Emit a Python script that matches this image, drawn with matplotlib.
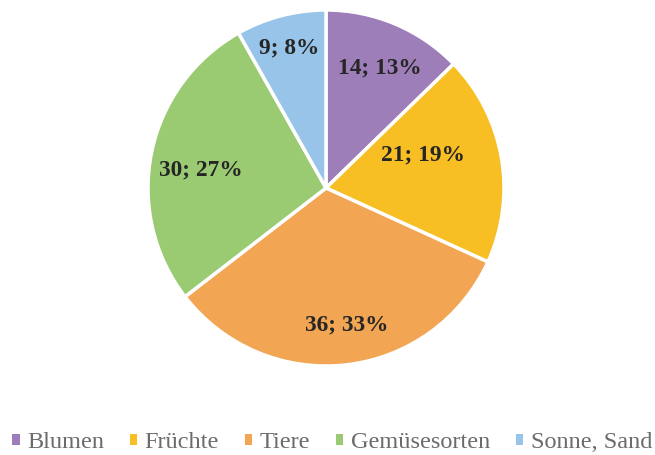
import matplotlib
matplotlib.use("Agg")
import matplotlib.pyplot as plt
from matplotlib.patches import Patch

categories = ["Blumen", "Früchte", "Tiere", "Gemüsesorten", "Sonne, Sand"]
values = [14, 21, 36, 30, 9]
percents = [13, 19, 33, 27, 8]
colors = ["#9E7EB9", "#F7BF24", "#F2A553", "#9ACB72", "#97C4E8"]
# label placement (fraction of radius), Excel "best fit"-like
label_pos = [(0.30, 0.674), (0.547, 0.186), (0.118, -0.770), (-0.702, 0.101), (-0.208, 0.787)]

plt.rcParams['font.family'] = ['Liberation Serif', 'DejaVu Serif']

fig = plt.figure(figsize=(6.55, 4.55), dpi=100)
cx, cy, r = 326, 188, 178
W, H = 655, 455
ax = fig.add_axes([(cx - r) / W, (H - cy - r) / H, 2 * r / W, 2 * r / H])

wedges, _ = ax.pie(values, colors=colors, startangle=90, counterclock=False,
                   wedgeprops=dict(edgecolor="white", linewidth=2.5))
for v, p, (x, y) in zip(values, percents, label_pos):
    ax.text(x, y, f"{v}; {p}%", ha="center", va="center", fontsize=16.8,
            fontweight="bold", color="#262626")
ax.set_xlim(-1, 1)
ax.set_ylim(-1, 1)
ax.set_aspect("equal")

handles = [Patch(facecolor=c, edgecolor="none") for c in colors]
fig.legend(handles, categories, loc="center", bbox_to_anchor=(332 / W, 1 - 443 / H),
           ncol=5, frameon=False, fontsize=17.5, handlelength=0.32, handleheight=0.32,
           handletextpad=0.3, columnspacing=1.05, labelcolor="#6b6b6b",
           borderpad=0, borderaxespad=0)

fig.savefig("out.png", dpi=100)
